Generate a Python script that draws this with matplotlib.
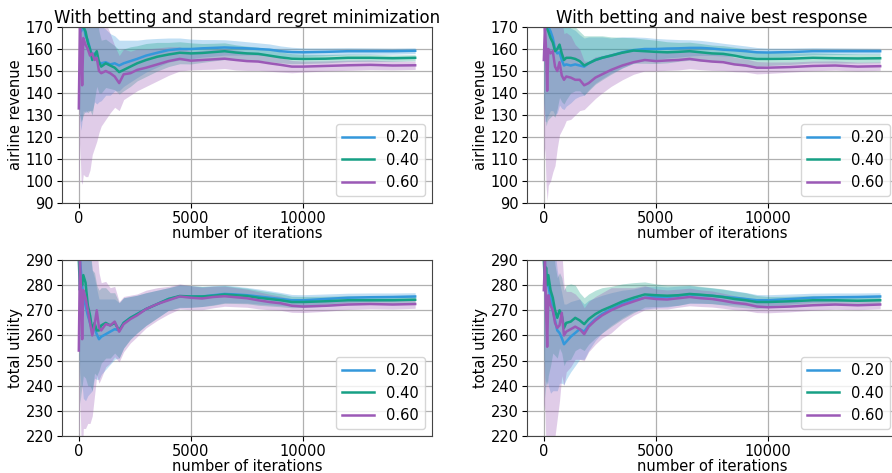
import matplotlib
matplotlib.use("Agg")
import matplotlib.pyplot as plt
import numpy as np

iterations = [0, 50, 100, 150, 200, 300, 400, 500, 600, 700, 800, 900, 1000, 1200, 1400, 1600,
              1800, 2000, 2300, 2600, 3000, 3500, 4000, 4500, 5000, 5500, 6000, 6500, 7000,
              7500, 8000, 8500, 9000, 9500, 10000, 11000, 12000, 13000, 14000, 15000]

labels = ["0.20", "0.40", "0.60"]
colors = ["#3498db", "#16a085", "#9b59b6"]

# airline revenue, standard regret minimization
rev_regret_020 = [175, 172, 168, 170, 172, 166, 164, 160, 157, 158, 155, 154, 153.5, 154, 153, 153.5,
                  152.5, 153.5, 154.5, 155.5, 157, 158.3, 159.5, 160, 160, 160.3, 160.5, 160.7, 160.5,
                  160.3, 160, 159.7, 159, 158.6, 158.5, 158.7, 159, 159, 159, 159.2]
rev_regret_040 = [178, 175, 172, 170, 170, 168, 163, 160, 155, 157, 159, 154, 152, 153.5, 152.5, 151.5,
                  149.5, 150.5, 152, 153.5, 155, 156.5, 157.5, 158.3, 158, 158.2, 158.6, 159, 158.4,
                  158, 157.8, 157, 156.2, 155.6, 155.5, 155.6, 156, 156, 155.8, 156]
rev_regret_060 = [133, 172, 160, 143.5, 165, 162, 160, 157, 158, 155, 156, 150, 149, 150, 149, 147.5,
                  144.5, 148.5, 149, 150.5, 151.5, 153, 154.5, 155.5, 154.7, 155, 155.3, 155.6, 155,
                  154.5, 154.3, 153.5, 152.8, 152, 152, 152.3, 152.6, 152.8, 152.5, 152.6]
rev_regret_020_sd = [40, 45, 45, 42, 40, 35, 32, 28, 25, 22, 20, 18, 17, 15, 14, 12.5,
                     11.5, 10.5, 9.5, 8.5, 7.5, 6.5, 5.5, 5, 4.5, 4, 3.8, 3.5, 3.3,
                     3, 2.8, 2.6, 2.4, 2.2, 2, 1.8, 1.6, 1.5, 1.4, 1.3]
rev_regret_040_sd = [40, 45, 45, 42, 40, 36, 32, 28, 25, 20, 16, 14, 12, 11, 10.5, 10,
                     10, 9.5, 9, 8, 7.5, 6.5, 5.5, 5, 4.8, 4.3, 4, 3.8, 3.5,
                     3.3, 3, 2.8, 2.5, 2.3, 2.1, 1.9, 1.7, 1.6, 1.5, 1.4]
rev_regret_060_sd = [40, 55, 60, 45, 62, 60, 58, 52, 46, 40, 38, 28, 24, 22, 18, 14,
                     12.5, 11.5, 10, 9.5, 8.5, 7.5, 6.5, 5.5, 4.2, 4.3, 4.5, 4.5, 4.5,
                     4.2, 4, 3.6, 3.3, 2.8, 2.5, 2.3, 2.3, 2.2, 2, 1.9]

# airline revenue, naive best response
rev_naive_020 = [175, 172, 172, 171, 170, 168, 165, 160, 158, 158.5, 155, 152.5, 153, 152.5, 153, 152.5,
                 152, 153.5, 155, 156, 157, 158.5, 159.5, 160, 160, 160.2, 160.3, 160.5, 160.5,
                 160.2, 159.7, 159.4, 159, 158.5, 158.4, 158.6, 159, 159, 159, 159]
rev_naive_040 = [178, 175, 170, 169, 168, 165, 163, 159, 160, 162, 158, 155, 156, 156, 155.5, 154.5,
                 152.5, 153.5, 155, 156, 157, 158.3, 159.3, 159, 158.7, 158.5, 158.7, 159, 158.5,
                 158, 157.8, 157, 156, 155.5, 155.5, 155.6, 156, 155.8, 155.7, 155.8]
rev_naive_060 = [155, 170, 160, 141, 160, 158, 159, 152, 150, 154, 148, 146, 147.5, 147, 146, 146,
                 143.5, 144.5, 147, 148.5, 150.5, 152.5, 154, 155, 154.5, 154.8, 155, 155.5, 154.8,
                 154.3, 154, 153, 152.5, 151.5, 151.5, 151.8, 152.3, 152.5, 152, 152.2]
rev_naive_020_sd = [40, 45, 45, 42, 40, 36, 33, 30, 27, 24, 22, 20, 19, 17, 15.5, 14,
                    13, 12, 10.5, 9.5, 8, 7, 6, 5.3, 4.8, 4.3, 4, 3.7, 3.4,
                    3.1, 2.9, 2.6, 2.4, 2.2, 2, 1.8, 1.6, 1.5, 1.4, 1.3]
rev_naive_040_sd = [40, 45, 45, 42, 40, 36, 33, 30, 27, 24, 22, 20, 19, 16, 14.5, 13.5,
                    13.5, 12.5, 11, 10, 8.5, 7, 5.8, 5.5, 5.3, 4.8, 4.3, 4.1, 4,
                    3.8, 3.7, 3.8, 4, 3.5, 3, 2.6, 2.3, 2.2, 2.1, 2]
rev_naive_060_sd = [45, 55, 62, 50, 62, 58, 55, 45, 35, 33, 25, 21, 20, 19, 16, 14,
                    11, 10, 9.5, 8.5, 7.5, 6.5, 5.5, 5, 4.5, 4.5, 4.5, 4.5, 4.2,
                    4, 3.8, 3.3, 3, 2.8, 2.6, 2.3, 2.2, 2.1, 2, 1.9]

# total utility, standard regret minimization
util_regret_020 = [295, 290, 285, 280, 275, 272, 268, 265, 262, 263, 260.5, 258.5, 259.5, 260.5, 261.5, 262.5,
                   262, 265, 267, 268.5, 270.5, 272.5, 274.5, 275.5, 275.5, 275.5, 276, 276.5, 276.3,
                   276, 275.5, 275, 274.5, 274, 274, 274.5, 275, 275.2, 275.3, 275.5]
util_regret_040 = [290, 278, 282, 280, 284, 281, 272, 268, 262, 265, 262, 262, 264, 265, 264, 265,
                   262, 265, 267, 268.5, 270.5, 272.5, 274.5, 275.7, 275.5, 275.5, 275.8, 276.3, 276,
                   275.7, 275, 274.5, 274, 273.3, 273.3, 273.6, 274, 274, 274, 274.2]
util_regret_060 = [254, 290, 278, 258.5, 278, 275, 270, 265, 260, 264, 270, 263, 262, 264.5, 264, 265.5,
                   261.5, 264.5, 266.5, 268, 270.5, 272.5, 274, 275.5, 275, 274.7, 275.3, 275.6, 275.2,
                   274.8, 274, 273.3, 272.8, 271.8, 271.5, 271.8, 272.3, 272.5, 272.3, 272.5]
util_regret_020_sd = [40, 45, 45, 40, 40, 38, 32, 28, 24, 20, 18, 16, 15, 14, 13, 12,
                      11, 10, 8.5, 7.5, 6.5, 5.5, 4.5, 4.5, 4.3, 4, 3.8, 3.5, 3.3,
                      3.1, 3, 2.8, 2.6, 2.3, 2.2, 2, 1.8, 1.7, 1.6, 1.5]
util_regret_040_sd = [40, 45, 45, 40, 40, 38, 32, 28, 24, 20, 18, 16, 15, 14, 13, 12,
                      11, 10, 8.5, 7.5, 6.5, 5.5, 4.5, 4.5, 4.3, 4, 3.8, 3.5, 3.3,
                      3.1, 3, 2.8, 2.6, 2.3, 2.2, 2, 1.8, 1.7, 1.6, 1.5]
util_regret_060_sd = [40, 55, 60, 50, 55, 52, 45, 40, 32, 28, 26, 22, 19, 17, 15, 14,
                      12, 11, 9.5, 8.5, 7.5, 6.5, 5.5, 5, 4.8, 4.5, 4.3, 4, 3.8,
                      3.6, 3.4, 3.1, 2.8, 2.6, 2.4, 2.2, 2, 1.9, 1.8, 1.7]

# total utility, naive best response
util_naive_020 = [295, 288, 285, 282, 280, 275, 270, 266, 262, 261, 259, 256.5, 257.5, 259.5, 261, 262.5,
                  261.5, 264, 266.5, 268.5, 270.5, 272.5, 274, 275, 275.3, 275.3, 275.8, 276.3, 276,
                  275.8, 275.3, 275, 274.5, 274, 274, 274.5, 275, 275.2, 275.3, 275.5]
util_naive_040 = [290, 280, 287, 280, 284, 278, 275, 270, 267, 270, 268, 263, 265, 265.5, 267, 266,
                  264.5, 266.5, 268.5, 270, 271.5, 273.5, 275, 276.3, 276, 275.8, 276, 276.5, 276.2,
                  275.8, 275.3, 274.5, 274, 273.3, 273.3, 273.6, 274, 274, 273.8, 274]
util_naive_060 = [278, 290, 270, 255.5, 276, 272, 270, 265, 263, 264, 269, 260, 261.5, 262.5, 263.5, 262.5,
                  260.5, 263.5, 266, 268, 270, 272, 273.5, 275, 274.5, 274.3, 274.8, 275.3, 274.8,
                  274.5, 273.8, 273, 272.5, 271.5, 271.2, 271.5, 272, 272.3, 272, 272.3]
util_naive_020_sd = [40, 45, 45, 40, 40, 38, 32, 28, 24, 20, 18, 16, 15, 14, 13, 12,
                     11, 10, 8.5, 7.5, 6.5, 5.5, 4.5, 4.5, 4.3, 4, 3.8, 3.5, 3.3,
                     3.1, 3, 2.8, 2.6, 2.3, 2.2, 2, 1.8, 1.7, 1.6, 1.5]
util_naive_040_sd = [40, 45, 45, 40, 40, 30, 22, 18, 16, 15, 15, 15, 15, 15, 13, 11,
                     10.5, 10, 9.5, 9, 8, 7, 6, 5, 4.5, 4.2, 4, 3.6, 3.3,
                     3.2, 3.2, 3.1, 3, 2.6, 2.2, 2, 1.9, 1.8, 1.7, 1.6]
util_naive_060_sd = [45, 60, 55, 40, 56, 52, 50, 45, 36, 30, 25, 20, 16, 15, 13, 12,
                     10.5, 10, 9.5, 9, 9, 7, 5.5, 4.8, 4, 3.8, 3.6, 3.5, 3.3,
                     3.2, 3, 2.8, 2.6, 2.4, 2.2, 2.1, 2, 1.9, 1.8, 1.7]

panels = [
    ("With betting and standard regret minimization", "airline revenue", (90, 170),
     [rev_regret_020, rev_regret_040, rev_regret_060],
     [rev_regret_020_sd, rev_regret_040_sd, rev_regret_060_sd]),
    ("With betting and naive best response", "airline revenue", (90, 170),
     [rev_naive_020, rev_naive_040, rev_naive_060],
     [rev_naive_020_sd, rev_naive_040_sd, rev_naive_060_sd]),
    (None, "total utility", (220, 290),
     [util_regret_020, util_regret_040, util_regret_060],
     [util_regret_020_sd, util_regret_040_sd, util_regret_060_sd]),
    (None, "total utility", (220, 290),
     [util_naive_020, util_naive_040, util_naive_060],
     [util_naive_020_sd, util_naive_040_sd, util_naive_060_sd]),
]

plt.rcParams["font.family"] = "DejaVu Sans"
plt.rcParams["font.size"] = 10.5

fig, axes = plt.subplots(2, 2, figsize=(8.92, 4.73), dpi=100)
fig.subplots_adjust(left=0.0695, right=1.0056, top=0.9429, bottom=0.0782,
                    wspace=0.2568, hspace=0.324)

x = np.array(iterations)
for ax, (title, ylabel, ylim, means, sds) in zip(axes.flat, panels):
    for mean, sd, lab, col in zip(means, sds, labels, colors):
        m = np.array(mean)
        s = np.array(sd)
        ax.fill_between(x, m - s, m + s, color=col, alpha=0.3, linewidth=0)
        ax.plot(x, m, color=col, lw=1.8, label=lab)
    ax.set_ylim(*ylim)
    ax.set_yticks(np.arange(ylim[0], ylim[1] + 1, 10))
    ax.set_xticks([0, 5000, 10000])
    ax.set_xlim(-750, 15750)
    ax.tick_params(labelsize=10.5, pad=2.5)
    ax.grid(True, color="#b0b0b0", lw=0.9)
    ax.set_axisbelow(True)
    for sp in ax.spines.values():
        sp.set_color("#444444")
    ax.set_xlabel("number of iterations", labelpad=0)
    ax.set_ylabel(ylabel, labelpad=2)
    if title:
        ax.set_title(title, fontsize=12, pad=3)
    ax.legend(loc="lower right", fontsize=10.5, handlelength=2.2)

fig.savefig("out.png", dpi=100)
